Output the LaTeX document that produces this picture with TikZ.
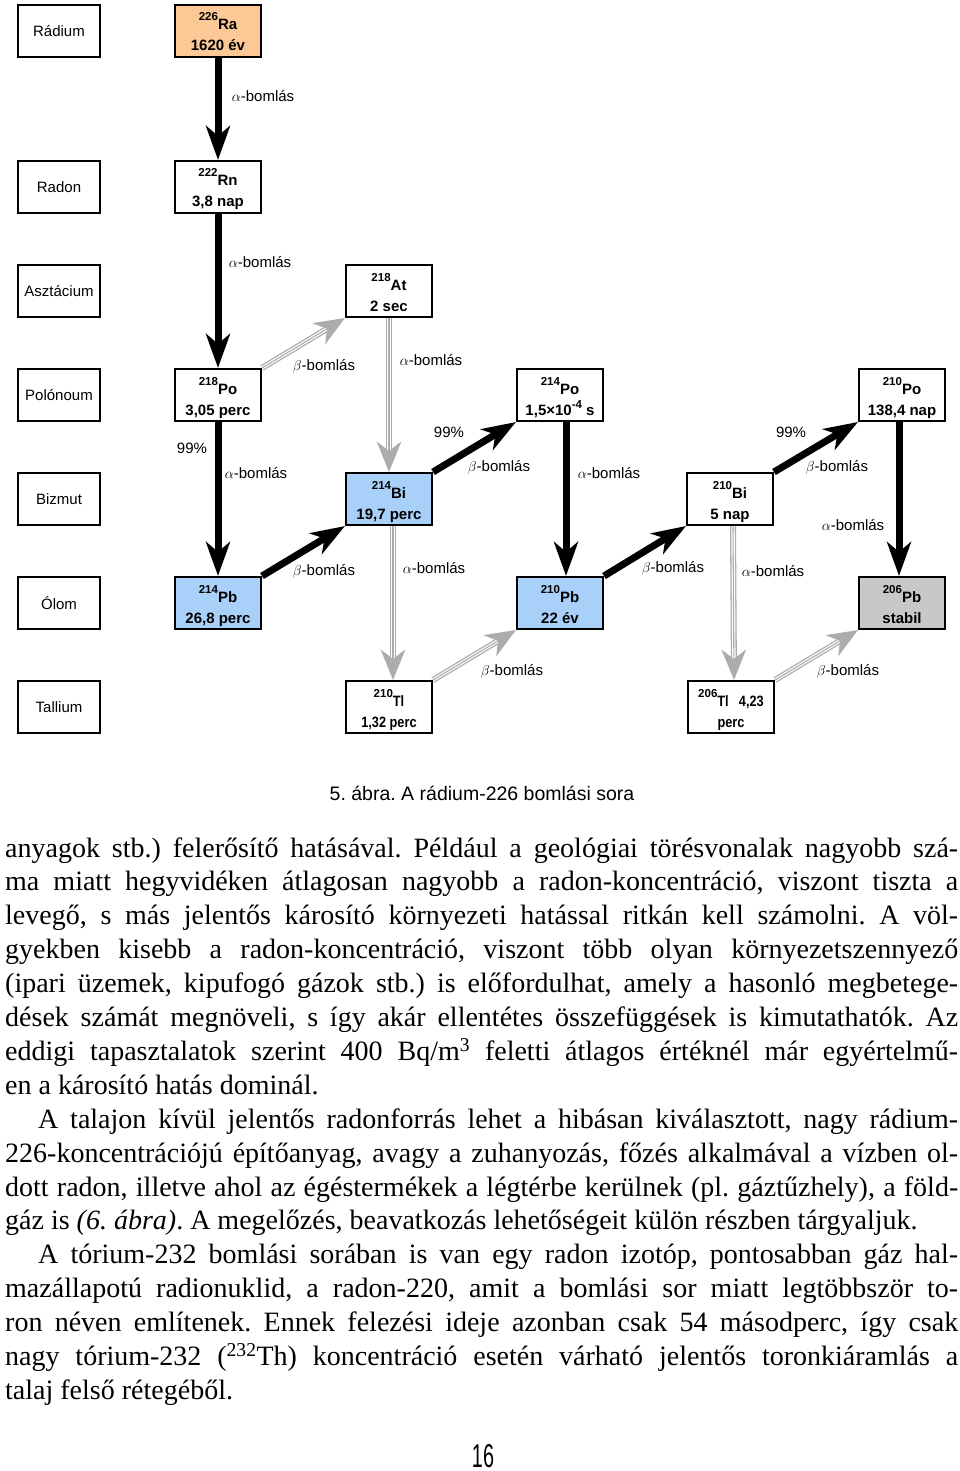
\documentclass[tikz,border=0pt]{standalone}
\usepackage{fontspec}
\setmainfont{Liberation Serif}
\setsansfont{Liberation Sans}
\usetikzlibrary{arrows.meta}
\definecolor{orangefill}{RGB}{251,200,150}
\definecolor{bluefill}{RGB}{168,208,248}
\definecolor{grayfill}{RGB}{200,200,200}
\definecolor{grayarr}{RGB}{172,172,172}
\frenchspacing
\newcommand{\massn}[1]{\raisebox{9pt}{\fontsize{11.5}{11.5}\selectfont #1}}
\newcommand{\expn}[1]{\raisebox{7pt}{\fontsize{11.5}{11.5}\selectfont #1}}
\newcommand{\nucl}[7]{%
  \node[nbox, fill=#4] (#1) at ({#2},{#3+26}) {};
  \node[ntxt] (#1s) at ({#2},{#3+25}) {\massn{#5}#6};
  \node[ntxt] (#1l) at ({#2},{#3+46}) {#7};
}
\newcommand{\jline}[4]{\node[btxt] (#1) at ({#2},{#3}) {\makebox[\dimexpr 958pt-#2pt\relax][s]{#4}};}
\newcommand{\lline}[4]{\node[btxt] (#1) at ({#2},{#3}) {#4};}
\tikzset{
  lbl/.style={draw, line width=1.6pt, minimum width=82pt, minimum height=52pt, inner sep=0pt,
    font=\sffamily\fontsize{15}{15}\selectfont},
  nbox/.style={draw, line width=2pt, minimum width=86pt, minimum height=52pt, inner sep=0pt},
  ntxt/.style={anchor=base, inner sep=0pt, font=\sffamily\bfseries\fontsize{15}{15}\selectfont},
  alab/.style={inner sep=0pt, font=\sffamily\fontsize{15}{15}\selectfont},
  blk/.style={line width=7pt, -{Stealth[length=34pt,width=24pt,inset=10pt]}},
  gry/.style={draw=grayarr, line width=6pt, -{Stealth[length=30pt,width=24pt,inset=9pt]},
    postaction={draw=white, line width=3.4pt, -, shorten >=22pt},
    postaction={draw=grayarr, line width=1.1pt, -, shorten >=22pt}},
  btxt/.style={anchor=base west, inner sep=0pt, font=\fontsize{28}{34}\selectfont},
}
\begin{document}
\begin{tikzpicture}[x=1pt, y=-1pt]
\path[use as bounding box, fill=white] (0,0) rectangle (960,1471);

% row labels
\node[lbl] (lra) at (59,31) {Rádium};
\node[lbl] (lrn) at (59,187) {Radon};
\node[lbl] (lat) at (59,291) {Asztácium};
\node[lbl] (lpo) at (59,395) {Polónoum};
\node[lbl] (lbi) at (59,499) {Bizmut};
\node[lbl] (lpb) at (59,603) {Ólom};
\node[lbl] (ltl) at (59,707) {Tallium};

% nuclides
\nucl{ra}{218}{5}{orangefill}{226}{Ra}{1620 év}
\nucl{rn}{218}{161}{white}{222}{Rn}{3,8 nap}
\nucl{at}{389}{265}{white}{218}{At}{2 sec}
\nucl{poa}{218}{369}{white}{218}{Po}{3,05 perc}
\nucl{bia}{389}{473}{bluefill}{214}{Bi}{19,7 perc}
\nucl{pob}{560}{369}{white}{214}{Po}{1,5\texttimes10\expn{-4} s}
\nucl{pba}{218}{577}{bluefill}{214}{Pb}{26,8 perc}
\nucl{pbb}{560}{577}{bluefill}{210}{Pb}{22 év}
\nucl{bib}{730}{473}{white}{210}{Bi}{5 nap}
\nucl{poc}{902}{369}{white}{210}{Po}{138,4 nap}
\nucl{pbc}{902}{577}{grayfill}{206}{Pb}{stabil}
\nucl{tla}{389}{681}{white}{210}{\scalebox{0.85}[1]{Tl}}{\scalebox{0.85}[1]{1,32 perc}}
\nucl{tlb}{731}{681}{white}{206}{\scalebox{0.85}[1]{Tl\hspace{12pt}4,23}}{\scalebox{0.85}[1]{perc}}

% main (black) decays
\draw[blk] (ra.south) -- (rn.north);
\draw[blk] (rn.south) -- (poa.north);
\draw[blk] (poa.south) -- (pba.north);
\draw[blk] (pba.north east) -- (bia.south west);
\draw[blk] (bia.north east) -- (pob.south west);
\draw[blk] ([xshift=6pt]pob.south) -- ([xshift=6pt]pbb.north);
\draw[blk] (pbb.north east) -- (bib.south west);
\draw[blk] (bib.north east) -- (poc.south west);
\draw[blk] ([xshift=-3pt]poc.south) -- ([xshift=-3pt]pbc.north);

% minor (gray) branches
\draw[gry] (poa.north east) -- (at.south west);
\draw[gry] (at.south) -- (bia.north);
\draw[gry] ([xshift=4pt]bia.south) -- ([xshift=4pt]tla.north);
\draw[gry] (tla.north east) -- (pbb.south west);
\draw[gry] ([xshift=3pt]bib.south) -- ([xshift=3pt]tlb.north);
\draw[gry] (tlb.north east) -- (pbc.south west);

% arrow labels
\node[alab] (a1) at (263,96) {$\alpha$-bomlás};
\node[alab] (a2) at (260,262) {$\alpha$-bomlás};
\node[alab] (p1) at (192,448) {99\%};
\node[alab] (a3) at (256,473) {$\alpha$-bomlás};
\node[alab] (b1) at (324,366) {$\beta$-bomlás};
\node[alab] (a4) at (431,360) {$\alpha$-bomlás};
\node[alab] (p2) at (449,432) {99\%};
\node[alab] (b2) at (499,467) {$\beta$-bomlás};
\node[alab] (b3) at (324,571) {$\beta$-bomlás};
\node[alab] (a5) at (434,568) {$\alpha$-bomlás};
\node[alab] (a6) at (609,473) {$\alpha$-bomlás};
\node[alab] (b4) at (673,568) {$\beta$-bomlás};
\node[alab] (a7) at (773,571) {$\alpha$-bomlás};
\node[alab] (p3) at (791,432) {99\%};
\node[alab] (b5) at (837,467) {$\beta$-bomlás};
\node[alab] (a8) at (853,525) {$\alpha$-bomlás};
\node[alab] (b6) at (512,671) {$\beta$-bomlás};
\node[alab] (b7) at (848,671) {$\beta$-bomlás};

% caption
\node[anchor=base, inner sep=0pt, font=\sffamily\fontsize{19.5}{19.5}\selectfont] (cap) at (482,800) {5. ábra. A rádium-226 bomlási sora};

% body text
\jline{t1}{5}{857}{anyagok stb.) felerősítő hatásával. Például a geológiai törésvonalak nagyobb szá-}
\jline{t2}{5}{890.9}{ma miatt hegyvidéken átlagosan nagyobb a radon-koncentráció, viszont tiszta a}
\jline{t3}{5}{924.8}{levegő, s más jelentős károsító környezeti hatással ritkán kell számolni. A völ-}
\jline{t4}{5}{958.7}{gyekben kisebb a radon-koncentráció, viszont több olyan környezetszennyező}
\jline{t5}{5}{992.6}{(ipari üzemek, kipufogó gázok stb.) is előfordulhat, amely a hasonló megbetege-}
\jline{t6}{5}{1026.5}{dések számát megnöveli, s így akár ellentétes összefüggések is kimutathatók. Az}
\jline{t7}{5}{1060.4}{eddigi tapasztalatok szerint 400 Bq/m\textsuperscript{3} feletti átlagos értéknél már egyértelmű-}
\lline{t8}{5}{1094.3}{en a károsító hatás dominál.}
\jline{t9}{38}{1128.2}{A talajon kívül jelentős radonforrás lehet a hibásan kiválasztott, nagy rádium-}
\jline{t10}{5}{1162.1}{226-koncentrációjú építőanyag, avagy a zuhanyozás, főzés alkalmával a vízben ol-}
\jline{t11}{5}{1196}{dott radon, illetve ahol az égéstermékek a légtérbe kerülnek (pl. gáztűzhely), a föld-}
\lline{t12}{5}{1229.9}{gáz is \textit{(6. ábra)}. A megelőzés, beavatkozás lehetőségeit külön részben tárgyaljuk.}
\jline{t13}{38}{1263.8}{A tórium-232 bomlási sorában is van egy radon izotóp, pontosabban gáz hal-}
\jline{t14}{5}{1297.7}{mazállapotú radionuklid, a radon-220, amit a bomlási sor miatt legtöbbször to-}
\jline{t15}{5}{1331.6}{ron néven említenek. Ennek felezési ideje azonban csak 54 másodperc, így csak}
\jline{t16}{5}{1365.5}{nagy tórium-232 (\textsuperscript{232}Th) koncentráció esetén várható jelentős toronkiáramlás a}
\lline{t17}{5}{1399.4}{talaj felső rétegéből.}

% page number
\node[anchor=base, inner sep=0pt, font=\sffamily\fontsize{33}{33}\selectfont] (pg) at (483,1467) {\scalebox{0.6}[1]{16}};
\end{tikzpicture}
\end{document}
